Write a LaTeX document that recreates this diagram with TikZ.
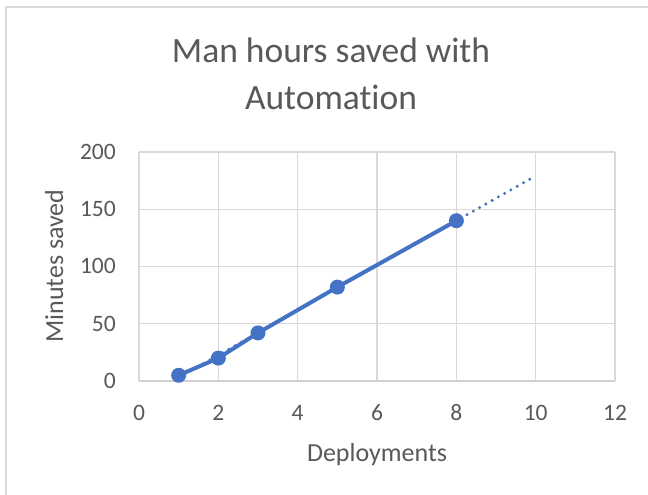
\documentclass[tikz,border=0pt]{standalone}
\usepackage{fontspec}
\setmainfont{Carlito}[Ligatures={NoCommon}]
\definecolor{txt}{HTML}{595959}
\definecolor{gridc}{HTML}{D9D9D9}
\definecolor{axisc}{HTML}{D0D0D0}
\definecolor{ser}{HTML}{4472C4}
\tikzset{
  gridline/.style={draw=gridc, line width=1.2pt},
  ticklab/.style={text=txt, inner sep=0pt, font=\fontsize{23.5}{28}\selectfont, text height=14.8pt, text depth=0pt},
  axtitle/.style={text=txt, inner sep=0pt, font=\fontsize{26}{31}\selectfont},
  titletext/.style={text=txt, inner sep=0pt, font=\fontsize{35.5}{43}\selectfont},
  series/.style={draw=ser, line width=4pt, line join=round, line cap=round},
  trend/.style={draw=ser, line width=3.3pt, line cap=round, dash pattern=on 0pt off 7.2pt},
  marker/.style={circle, fill=ser, draw=none, minimum size=15pt, inner sep=0pt}
}
\begin{document}
\begin{tikzpicture}[x=1pt,y=-1pt]
\useasboundingbox (0,0) rectangle (648,495);
\clip (0,0) rectangle (648,495);
\fill[white] (0,0) rectangle (648,495);
\draw[draw=gridc, line width=1.5pt] (6,7) rectangle (720,560);
% title
\node[titletext, anchor=base] (title1) at (331,63) {Man hours saved with};
\node[titletext, anchor=base] (title2) at (331,110) {Automation};
% axis titles
\node[axtitle, anchor=base, rotate=90] (ytitle) at (63,266) {Minutes saved};
\node[axtitle, anchor=base] (xtitle) at (377,461.5) {Deployments};
\begin{scope}[shift={(139,381)}, x=39.67pt, y=1.145pt]
  \foreach \v in {50,100,150,200} \draw[gridline] (0,\v) -- (12,\v);
  \foreach \u in {0,2,4,6,8,10,12} \draw[gridline] (\u,0) -- (\u,200);
  \draw[draw=axisc, line width=1.4pt] (0,0) -- (12,0);
  \foreach \v in {0,50,100,150,200}
    \node[ticklab, anchor=east] (yl\v) at (-0.58,\v) {\v};
  \foreach \u in {0,2,4,6,8,10,12}
    \node[ticklab, anchor=center] (xl\u) at (\u,-27.9) {\u};
  % trendline (linear fit, forecast to 10)
  \coordinate (t0) at (1,3.0);
  \coordinate (t1) at (9.9,177.2);
  \draw[trend] (t0) -- (t1);
  % data
  \node[marker] (p1) at (1,5) {};
  \node[marker] (p2) at (2,20) {};
  \node[marker] (p3) at (3,42) {};
  \node[marker] (p4) at (5,82) {};
  \node[marker] (p5) at (8,140) {};
  \draw[series] (p1.center) -- (p2.center) -- (p3.center) -- (p4.center) -- (p5.center);
\end{scope}
\end{tikzpicture}
\end{document}
